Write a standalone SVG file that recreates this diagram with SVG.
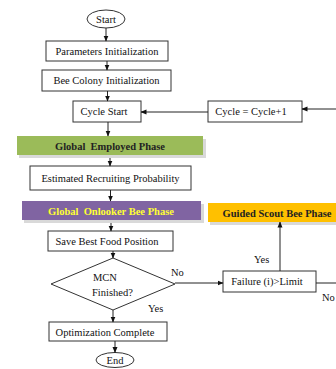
<svg xmlns="http://www.w3.org/2000/svg" width="336" height="369" viewBox="0 0 336 369">
<defs>
<marker id="ah" markerWidth="6" markerHeight="6" refX="5.5" refY="3" orient="auto" markerUnits="userSpaceOnUse">
<path d="M0,0.5 L6,3 L0,5.5 Z" fill="#111"/>
</marker>
</defs>
<style>
.box{fill:#fff;stroke:#333;stroke-width:1}
.t{font-family:"Liberation Serif","Times New Roman","DejaVu Serif",serif;font-size:10.5px;fill:#111}
.b{font-family:"Liberation Serif","Times New Roman","DejaVu Serif",serif;font-size:10.5px;font-weight:bold}
.c{text-anchor:middle}
.sh{fill:#d9d9d9}
.ln{stroke:#222;stroke-width:1;fill:none}
</style>
<rect width="336" height="369" fill="#fff"/>
<g id="start"><ellipse cx="106" cy="19" rx="19" ry="9" class="box"/><text x="106" y="22.5" class="t c">Start</text></g>
<g id="params"><rect x="46" y="41" width="122" height="20" class="box"/><text x="107" y="54.5" class="t c">Parameters Initialization</text></g>
<g id="colony"><rect x="42" y="70" width="129" height="21" class="box"/><text x="106.5" y="84" class="t c">Bee Colony Initialization</text></g>
<g id="cyclestart"><rect x="73" y="101" width="68" height="21" class="box"/><text x="104" y="115" class="t c">Cycle Start</text></g>
<g id="cycleinc"><rect x="208" y="101" width="94" height="21" class="box"/><text x="251" y="115" class="t c">Cycle = Cycle+1</text></g>
<g id="employed"><rect x="19" y="139" width="187" height="19" class="sh"/><rect x="17" y="136" width="186" height="19" fill="#9bbb59"/><text x="110" y="149.5" class="b c" fill="#222" xml:space="preserve">Global  Employed Phase</text></g>
<g id="estimated"><rect x="30" y="166" width="161" height="24" class="box"/><text x="110.5" y="181.5" class="t c">Estimated Recruiting Probability</text></g>
<g id="onlooker"><rect x="24" y="204" width="180" height="19" class="sh"/><rect x="22" y="201" width="179" height="19" fill="#8064a2"/><text x="111" y="214.5" class="b c" fill="#ffff33" xml:space="preserve">Global  Onlooker Bee Phase</text></g>
<g id="scout"><rect x="210" y="206" width="140" height="19" class="sh"/><rect x="208" y="203" width="140" height="19" fill="#ffc000"/><text x="277" y="216.5" class="b c" fill="#222">Guided Scout Bee Phase</text></g>
<g id="save"><rect x="48" y="231" width="125" height="20" class="box"/><text x="107" y="244.5" class="t c">Save Best Food Position</text></g>
<g id="mcn"><polygon points="113,258 175,284 113,310 51,284" class="box"/><text x="93" y="281" class="t">MCN</text><text x="92" y="296" class="t">Finished?</text></g>
<g id="failure"><rect x="223" y="271" width="93" height="21" class="box"/><text x="267" y="285" class="t c">Failure (i)&gt;Limit</text></g>
<g id="optim"><rect x="49" y="322" width="118" height="19" class="box"/><text x="105" y="335.5" class="t c">Optimization Complete</text></g>
<g id="end"><ellipse cx="115" cy="360" rx="19" ry="7.5" class="box"/><text x="115" y="363.5" class="t c">End</text></g>
<g id="connectors">
<line x1="106" y1="28" x2="106" y2="41" class="ln" marker-end="url(#ah)"/>
<line x1="107" y1="61" x2="107" y2="70" class="ln" marker-end="url(#ah)"/>
<line x1="107.5" y1="91" x2="107.5" y2="101" class="ln" marker-end="url(#ah)"/>
<line x1="108" y1="122" x2="108" y2="136" class="ln" marker-end="url(#ah)"/>
<line x1="110" y1="158" x2="110" y2="166" class="ln" marker-end="url(#ah)"/>
<line x1="110.5" y1="190" x2="110.5" y2="201" class="ln" marker-end="url(#ah)"/>
<line x1="111" y1="223" x2="111" y2="231" class="ln" marker-end="url(#ah)"/>
<line x1="113" y1="251" x2="113" y2="258" class="ln" marker-end="url(#ah)"/>
<line x1="113" y1="310" x2="113" y2="322" class="ln" marker-end="url(#ah)"/>
<line x1="115" y1="341" x2="115" y2="352.5" class="ln" marker-end="url(#ah)"/>
<line x1="208" y1="112" x2="141" y2="112" class="ln" marker-end="url(#ah)"/>
<line x1="336" y1="109" x2="302" y2="109" class="ln" marker-end="url(#ah)"/>
<line x1="175" y1="283" x2="223" y2="283" class="ln" marker-end="url(#ah)"/>
<line x1="280" y1="271" x2="280" y2="222" class="ln" marker-end="url(#ah)"/>
<line x1="316" y1="283" x2="336" y2="283" class="ln"/>
<text x="171" y="276" class="t">No</text>
<text x="148" y="312" class="t">Yes</text>
<text x="254" y="263" class="t">Yes</text>
<text x="322" y="301" class="t">No</text>
</g>
</svg>
